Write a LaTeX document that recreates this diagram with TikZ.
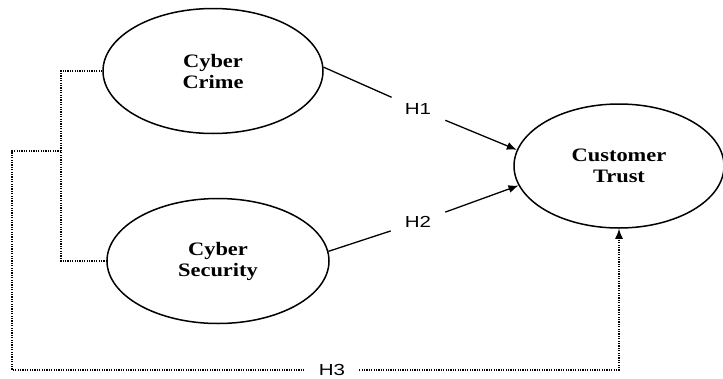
\documentclass[tikz,border=0pt]{standalone}
\usepackage{fontspec}
\setmainfont[FakeStretch=1.18]{Liberation Serif}
\newfontfamily\hfont[FakeStretch=1.28]{Liberation Sans}
\usetikzlibrary{shapes.geometric,arrows.meta,positioning,calc}

\begin{document}
\begin{tikzpicture}[x=1pt,y=-1pt,
   var/.style={ellipse,draw=black,line width=1.5pt,inner sep=0pt,minimum width=220pt,minimum height=125pt,align=center,font=\fontsize{19}{21}\selectfont\bfseries},
   hyp/.style={inner xsep=14pt,inner ysep=6pt,font=\hfont\fontsize{16}{18}\selectfont},
   dotline/.style={line width=1.3pt,dash pattern=on 1.2pt off 1.2pt},
   tip/.style={-{Latex[length=10pt,width=8pt]}}]
\useasboundingbox (0,0) rectangle (723,378);
\path (213,71)  node (cc) [var] {Cyber\\Crime}
      (218,261) node (cs) [var,minimum width=222pt] {Cyber\\Security}
      (619,166) node (ct) [var,minimum width=210pt,minimum height=124pt] {Customer\\Trust};
\path (418,109) node (h1) [hyp] {H1}
      (418,222) node (h2) [hyp] {H2}
      (332,370) node (h3) [hyp] {H3};
% direct paths
\draw [line width=1.3pt] (cc.2) -- (h1);
\draw [line width=1.3pt,tip] (h1) -- (ct.171);
\draw [line width=1.3pt] (cs.5) -- (h2);
\draw [line width=1.3pt,tip] (h2) -- (ct.191);
% joint path
\coordinate (brk) at (61,151);
\coordinate (lft) at (12,151);
\draw [dotline] (cc.west) -| (brk) |- (cs.west);
\draw [dotline] (brk) -- (lft) |- (h3);
\draw [dotline,tip] (h3) -| (ct.south);
\end{tikzpicture}
\end{document}
